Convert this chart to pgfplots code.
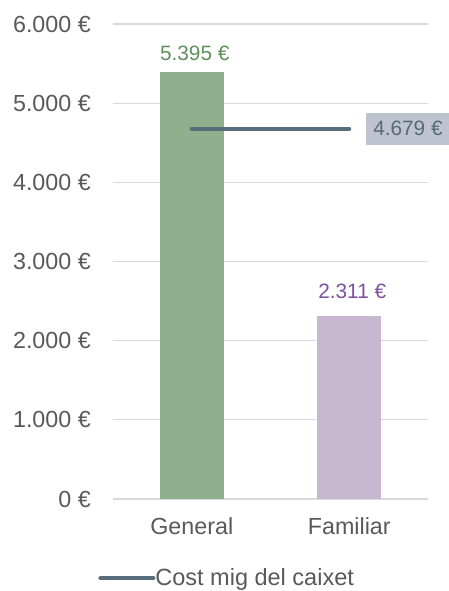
\documentclass[border=0pt]{standalone}
\usepackage{pgfplots}
\pgfplotsset{compat=1.18}
\usepackage{fontspec}
\setmainfont{Liberation Sans}
\definecolor{barg}{HTML}{8FB08C}
\definecolor{labg}{HTML}{5F8F5A}
\definecolor{barp}{HTML}{C8B7D1}
\definecolor{labp}{HTML}{7E509C}
\definecolor{linec}{HTML}{586D7B}
\definecolor{boxc}{HTML}{BFC3D0}
\definecolor{boxt}{HTML}{566A77}
\definecolor{gridc}{HTML}{D9D9D9}
\definecolor{tickc}{HTML}{595959}
\begin{document}
\begin{tikzpicture}
\useasboundingbox (0,0) rectangle (449pt,591pt);
\begin{axis}[
  at={(113pt,92pt)}, anchor=south west,
  scale only axis, width=315pt, height=475pt,
  xmin=-0.5, xmax=1.5, ymin=0, ymax=6000,
  ytick={0,1000,2000,3000,4000,5000,6000},
  yticklabels={0~€,1.000~€,2.000~€,3.000~€,4.000~€,5.000~€,6.000~€},
  xtick={0,1}, xticklabels={General,Familiar},
  major tick length=0pt,
  ymajorgrids, grid style={draw=gridc, line width=1.2pt},
  axis line style={draw=none},
  tick label style={font=\fontsize{23.3}{28}\selectfont, text=tickc},
  yticklabel style={anchor=east, inner sep=0pt, xshift=-22pt},
  xticklabel style={anchor=north, inner sep=0pt, yshift=-18pt},
  clip=false,
  legend style={at={(-0.047,-0.1665)}, anchor=west, draw=none, fill=none,
    inner sep=0pt, nodes={inner sep=0pt, text=tickc, font=\fontsize{23.5}{28}\selectfont},
    /tikz/every even column/.append style={column sep=3pt}},
  legend image code/.code={\draw[line width=4pt, line cap=round, linec] (2pt,0pt) -- (55pt,0pt);},
]
\addplot[ybar, bar width=64pt, bar shift=0pt, fill=barg, draw=none, forget plot,
  nodes near coords={5.395~€},
  nodes near coords style={text=labg, font=\fontsize{20.8}{25}\selectfont, anchor=south, inner sep=0pt, yshift=11pt, xshift=3pt}]
  coordinates {(0,5395)};
\addplot[ybar, bar width=64pt, bar shift=0pt, fill=barp, draw=none, forget plot,
  nodes near coords={2.311~€},
  nodes near coords style={text=labp, font=\fontsize{20.8}{25}\selectfont, anchor=south, inner sep=0pt, yshift=17pt, xshift=3pt}]
  coordinates {(1,2311)};
\addplot[color=linec, line width=4pt, line cap=round]
  coordinates {(0,4679) (1,4679)}
  node[pos=1, anchor=west, xshift=15pt, fill=boxc, text=boxt, inner xsep=7pt, inner ysep=0pt,
       minimum height=32pt, font=\fontsize{20.8}{25}\selectfont] {4.679~€};
\addlegendentry{Cost mig del caixet}
\end{axis}
\end{tikzpicture}
\end{document}
